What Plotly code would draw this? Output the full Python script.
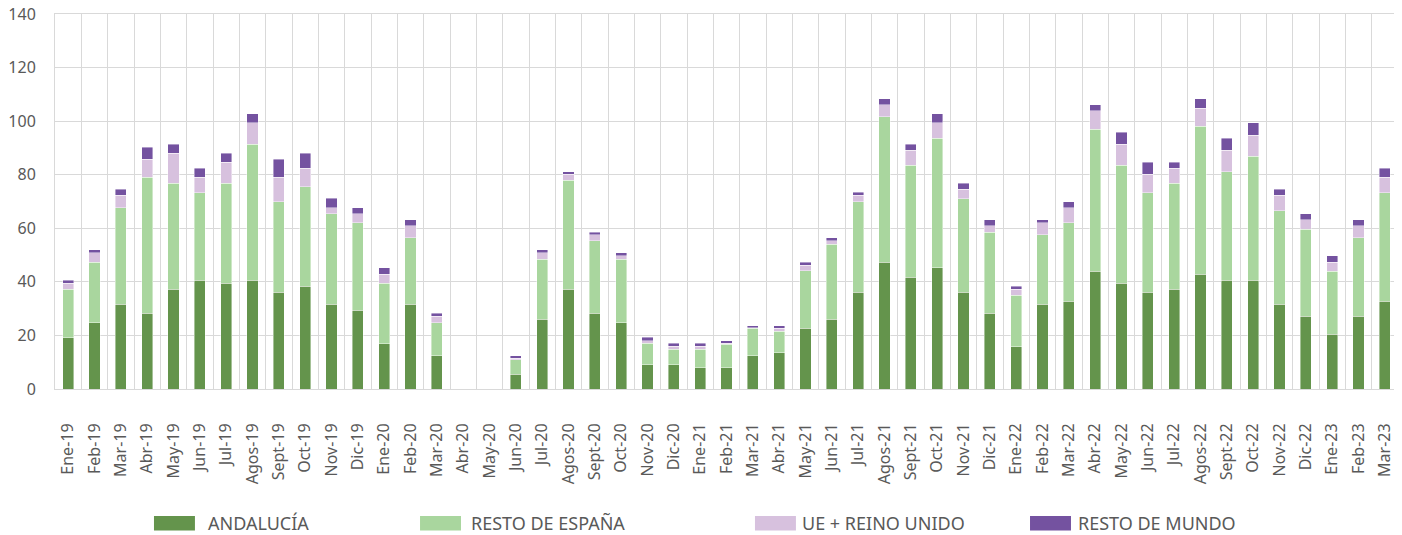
import plotly.graph_objects as go

# ── Datos ──────────────────────────────────────────────────────────────────────
meses = ['Ene', 'Feb', 'Mar', 'Abr', 'May', 'Jun', 'Jul', 'Agos', 'Sept', 'Oct', 'Nov', 'Dic']
categorias = [f"{m}-{a}" for a in ['19', '20', '21', '22'] for m in meses] + ['Ene-23', 'Feb-23', 'Mar-23']

andalucia = [19.1, 24.8, 31.7, 28.2, 37.3, 40.6, 39.5, 40.6, 36.1, 38.4, 31.7, 29.4,
             16.9, 31.7, 12.4, 0, 0, 5.6, 26.0, 37.3, 28.2, 24.8, 9.1, 9.1,
             7.9, 7.9, 12.4, 13.5, 22.6, 26.0, 36.1, 47.4, 41.8, 45.2, 36.1, 28.2,
             15.8, 31.7, 32.8, 44.0, 39.5, 36.1, 37.3, 42.8, 40.6, 40.6, 31.7, 27.1,
             20.4, 27.1, 32.8]
resto_espana = [18.2, 22.6, 36.0, 50.8, 39.5, 32.7, 37.3, 50.8, 33.8, 37.2, 33.8, 32.7,
                22.6, 24.8, 12.4, 0, 0, 5.4, 22.5, 40.6, 27.1, 23.7, 7.9, 5.7,
                6.9, 8.9, 10.2, 8.0, 21.5, 28.1, 33.8, 54.2, 41.7, 48.4, 34.9, 30.4,
                19.2, 25.8, 29.3, 53.0, 44.0, 37.2, 39.5, 55.3, 40.6, 46.3, 34.9, 32.6,
                23.6, 29.3, 40.5]
ue_reino_unido = [2.1, 3.5, 4.6, 6.8, 11.2, 5.7, 7.9, 8.0, 9.1, 6.9, 2.2, 3.4,
                  3.3, 4.5, 2.4, 0, 0, 0.5, 2.3, 2.2, 2.2, 1.2, 1.1, 1.1,
                  1.1, 0.3, 0.2, 1.1, 2.1, 1.2, 2.4, 4.5, 5.7, 5.8, 3.5, 2.4,
                  2.3, 4.6, 5.6, 6.8, 7.9, 6.8, 5.7, 6.8, 8.0, 7.8, 5.7, 3.5,
                  3.4, 4.6, 5.7]
resto_mundo = [1.2, 1.1, 2.2, 4.5, 3.4, 3.5, 3.3, 3.3, 6.8, 5.5, 3.5, 2.2,
               2.4, 2.2, 1.0, 0, 0, 0.9, 1.1, 1.1, 1.1, 1.1, 1.2, 1.1,
               1.1, 1.0, 0.9, 1.1, 1.2, 1.1, 1.1, 2.2, 2.2, 3.3, 2.3, 2.2,
               1.1, 1.1, 2.2, 2.3, 4.5, 4.6, 2.2, 3.4, 4.4, 4.7, 2.2, 2.3,
               2.3, 2.2, 3.5]

series = [
    ('ANDALUCÍA', andalucia, '#64944c'),
    ('RESTO DE ESPAÑA', resto_espana, '#a9d69e'),
    ('UE + REINO UNIDO', ue_reino_unido, '#d7c1de'),
    ('RESTO DE MUNDO', resto_mundo, '#7452a0'),
]

FONT = 'Noto Sans'
GRIS = '#595959'
LINEA = '#d9d9d9'

fig = go.Figure()
for nombre, valores, color in series:
    fig.add_trace(go.Bar(x=categorias, y=valores, name=nombre,
                         marker=dict(color=color, line=dict(color='rgba(255,255,255,0.7)', width=0.6)),
                         showlegend=False))

# ── Leyenda manual (rectángulos anchos como en el original) ───────────────────
leyenda_x0 = [0.0737, 0.2718, 0.5212, 0.7260]
leyenda_txt = [0.1125, 0.3080, 0.5545, 0.7600]
shapes, annotations = [], []
for (nombre, _, color), x0, xt in zip(series, leyenda_x0, leyenda_txt):
    shapes.append(dict(type='rect', xref='paper', yref='paper',
                       x0=x0, x1=x0 + 0.0305, y0=-0.3387, y1=-0.3773,
                       fillcolor=color, line=dict(width=0)))
    annotations.append(dict(text=nombre, xref='paper', yref='paper',
                            x=xt, y=-0.3573, xanchor='left', yanchor='middle',
                            showarrow=False, font=dict(family=FONT, size=18, color=GRIS)))

fig.update_layout(
    barmode='stack', bargap=0.58,
    width=1402, height=535,
    margin=dict(l=47, r=12, t=6, b=154),
    plot_bgcolor='white', paper_bgcolor='white',
    font=dict(family=FONT, color=GRIS),
    shapes=shapes, annotations=annotations,
    xaxis=dict(type='category', tickson='boundaries', tickangle=-90, automargin=False,
               showgrid=True, gridcolor=LINEA, gridwidth=1,
               showline=True, linecolor=LINEA, linewidth=1, mirror=True,
               ticks='', ticklabelstandoff=27, tickfont=dict(size=16, color=GRIS)),
    yaxis=dict(range=[0, 140], dtick=20, showgrid=True, gridcolor=LINEA, gridwidth=1,
               zeroline=False, showline=True, linecolor=LINEA, linewidth=1, mirror=True,
               ticks='', ticklabelstandoff=15, ticklabeloverflow='allow', automargin=False,
               tickfont=dict(size=16, color=GRIS)),
)

fig.write_html("out.html")
